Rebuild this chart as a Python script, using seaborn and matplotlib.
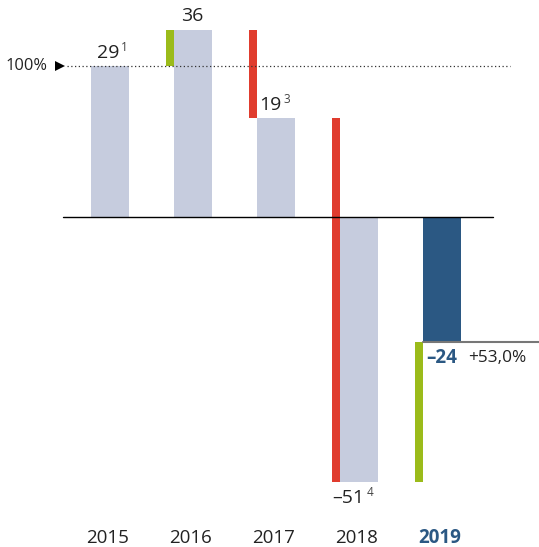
import numpy as np
import seaborn as sns
import matplotlib.pyplot as plt

years = ['2015', '2016', '2017', '2018', '2019']
values = [29, 36, 19, -51, -24]
labels = ['29', '36', '19', '\u201351', '\u201324']
footnotes = ['1', '', '3', '4', '']
change_label = '+53,0%'
ref_label = '100%'

GREY = '#C6CCDE'
BLUE = '#2B5883'
GREEN = '#9BBB1A'
RED = '#E03C2E'
TEXT = '#222222'

sns.set_theme(style='white')
plt.rcParams['font.family'] = ['Open Sans', 'DejaVu Sans']

fig = plt.figure(figsize=(5.39, 5.47), dpi=100)
ax = fig.add_axes([0, 0, 1, 1])

bar_w = 0.458
dw = 0.096
bar_colors = [GREY] * 4 + [BLUE]
sns.barplot(x=years, y=values, hue=years, palette=bar_colors, width=bar_w,
            legend=False, ax=ax, saturation=1, linewidth=0)

# change bars from previous value to current one
x = np.arange(len(years))
prev = np.array(values[:-1])
cur = np.array(values[1:])
dx = x[1:] - bar_w / 2 - dw / 2
dcol = [GREEN if c > p else RED for p, c in zip(prev, cur)]
ax.bar(dx, cur - prev, bottom=prev, width=dw, color=dcol, linewidth=0)

ax.set_xlim(-1.325, 5.169)
ax.set_ylim(-63.46, 41.73)
ax.axis('off')

# zero line and reference line
ax.plot([-0.566, 4.614], [0, 0], color='black', lw=1)
ax.plot([-0.52, 4.82], [values[0], values[0]], color='#333333', lw=0.9,
        ls=(0, (1, 2)))
ax.plot([-0.6], [values[0]], marker='>', color='black', ms=7, mew=0)
ax.text(-0.755, values[0], ref_label, ha='right', va='center', fontsize=11.8,
        color=TEXT)

# last-year change line
ax.plot([x[4] - bar_w / 2, 5.169], [values[4], values[4]], color='#777777', lw=1.5)


def put(xv, yv, s, fn):
    t = ax.text(xv, yv, s, ha='center', va='baseline', fontsize=14, color=TEXT)
    if fn:
        ax.annotate(fn, xy=(1, 1), xycoords=t, xytext=(1.5, 2.5),
                    textcoords='offset points', ha='left', va='top',
                    fontsize=8.5, color='#444444')


# value labels (baseline a few px off the bar end)
put(x[0] - 0.025, values[0] + 1.5, labels[0], footnotes[0])
put(x[1] - 0.01, values[1] + 1.6, labels[1], footnotes[1])
put(x[2] - 0.065, values[2] + 1.5, labels[2], footnotes[2])
put(x[3] - 0.127, values[3] - 4.05, labels[3], footnotes[3])

ax.text(x[4] - bar_w / 2 + 0.035, values[4] - 3.1, labels[4], ha='left', va='center',
        fontsize=13.5, color=BLUE, fontweight='bold')
ax.text(x[4] + 0.315, values[4] - 3.1, change_label, ha='left', va='center',
        fontsize=12.4, color=TEXT)

# year labels
for i, yr in enumerate(years):
    last = i == len(years) - 1
    ax.text(x[i] - 0.03, -61.7, yr, ha='center', va='center', fontsize=13.5,
            color=BLUE if last else TEXT, fontweight='bold' if last else 'normal')

fig.savefig('out.png', dpi=100)
